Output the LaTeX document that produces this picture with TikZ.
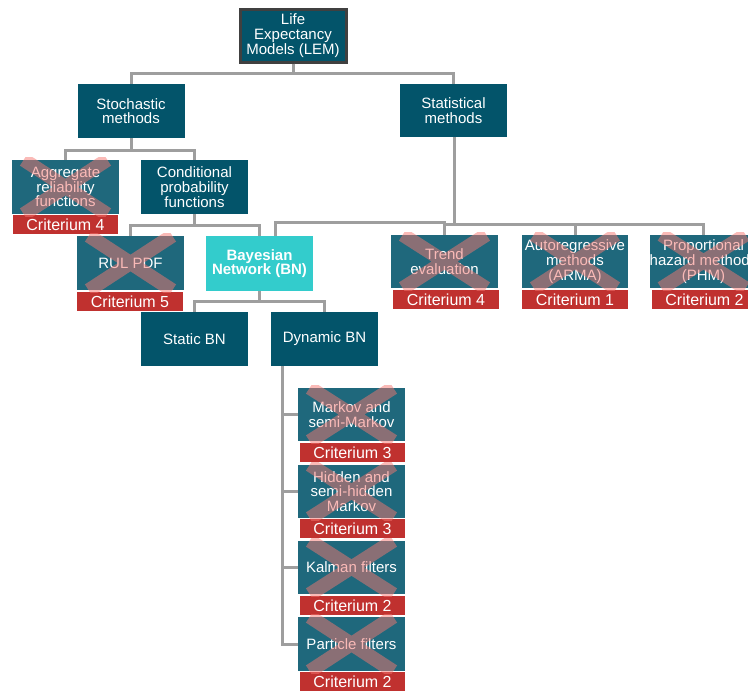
\documentclass[tikz,border=0pt]{standalone}
\usepackage{fontspec}
\setmainfont{Liberation Sans}
\newdimen\pxu \pxu=0.75pt
\definecolor{boxteal}{HTML}{03546A}
\definecolor{dropteal}{HTML}{1F687C}
\definecolor{bncyan}{HTML}{33CCCC}
\definecolor{critred}{HTML}{C0312F}
\definecolor{linegray}{HTML}{9E9E9E}
\definecolor{rimgray}{HTML}{404040}
\definecolor{xsalmon}{HTML}{F57670}
\newcommand\boxfont{\fontsize{11.25pt}{11pt}\selectfont}
\newcommand\critfont{\fontsize{12pt}{12pt}\selectfont}
\tikzset{
  box/.style={rectangle, fill=boxteal, text=white, inner sep=0pt,
    minimum width=107\pxu, minimum height=54\pxu, align=center, font=\boxfont},
  dropped/.style={box, fill=dropteal},
  crit/.style={rectangle, fill=critred, text=white, inner sep=0pt,
    minimum width=105\pxu, minimum height=19\pxu, font=\critfont},
  link/.style={draw=linegray, line width=3\pxu},
  xbar/.style={draw=xsalmon, line width=14\pxu, opacity=0.5, line cap=butt},
}
% translucent cross over a discarded method
\newcommand\strikeout[1]{%
  \begin{scope}
    \clip ([yshift=2\pxu]#1.north west) rectangle ([yshift=-2\pxu]#1.south east);
    \draw[xbar] ([xshift=12\pxu]#1.north west) -- ([xshift=-12\pxu]#1.south east)
                ([xshift=-12\pxu]#1.north east) -- ([xshift=12\pxu]#1.south west);
  \end{scope}}
\begin{document}
\begin{tikzpicture}[x=0.75pt, y=-0.75pt]
\useasboundingbox (0,0) rectangle (748,693);
\clip (0,0) rectangle (748,693);

% root
\node[box, minimum width=106\pxu, minimum height=53\pxu, draw=rimgray, line width=3\pxu] (lem) at (293,35.5) {Life\\Expectancy\\Models (LEM)};

% first level
\node[box] (stoch) at (131,111) {Stochastic\\methods};
\node[box, minimum height=53\pxu] (stat) at (453.5,110.5) {Statistical\\methods};

% stochastic branch
\node[dropped] (agg) at (65.5,187) {Aggregate\\reliability\\functions};
\node[crit] (cagg) at (65.5,224.5) {Criterium 4};
\node[box] (cond) at (194.5,187) {Conditional\\probability\\functions};
\node[dropped] (rul) at (130.5,263) {RUL PDF};
\node[crit, minimum width=106\pxu] (crul) at (130,301.5) {Criterium 5};
\node[box, fill=bncyan, minimum height=55\pxu, font=\boxfont\bfseries] (bn) at (259.5,263.5) {Bayesian\\Network (BN)};
\node[box] (sbn) at (194.5,339) {Static BN};
\node[box] (dbn) at (324.5,339) {Dynamic BN};

% statistical branch
\node[dropped, minimum height=53\pxu] (trend) at (444.5,261.5) {Trend\\evaluation};
\node[crit, minimum width=106\pxu] (ctrend) at (446,299.5) {Criterium 4};
\node[dropped, minimum height=53\pxu, minimum width=106\pxu] (arma) at (575,261.5) {Autoregressive\\methods\\(ARMA)};
\node[crit, minimum width=106\pxu] (carma) at (575,299.5) {Criterium 1};
\node[dropped, minimum height=53\pxu] (phm) at (703.5,261.5) {Proportional\\hazard methods\\(PHM)};
\node[crit] (cphm) at (704.5,299.5) {Criterium 2};

% dynamic BN variants
\node[dropped, minimum height=53\pxu] (markov) at (351.5,414.5) {Markov and\\semi-Markov};
\node[crit] (cmarkov) at (352.5,452.5) {Criterium 3};
\node[dropped, minimum height=53\pxu] (hidden) at (351.5,491.5) {Hidden and\\semi-hidden\\Markov};
\node[crit] (chidden) at (352.5,528.5) {Criterium 3};
\node[dropped, minimum height=53\pxu] (kalman) at (351.5,567.5) {Kalman filters};
\node[crit] (ckalman) at (352.5,605.5) {Criterium 2};
\node[dropped] (particle) at (351.5,644) {Particle filters};
\node[crit] (cparticle) at (352.5,681.5) {Criterium 2};

% crosses
\strikeout{agg}
\strikeout{rul}
\strikeout{trend}
\strikeout{arma}
\strikeout{phm}
\strikeout{markov}
\strikeout{hidden}
\strikeout{kalman}
\strikeout{particle}

% connectors
\draw[link] (lem.south) -- ++(0,10) -| (stoch.north);
\draw[link] (lem.south) -- ++(0,10) -| (stat.north);
\draw[link] (stoch.south) -- ++(0,12) -| (agg.north);
\draw[link] (stoch.south) -- ++(0,12) -| (cond.north);
\draw[link] (cond.south) -- ++(0,11) -| (rul.north);
\draw[link] (cond.south) -- ++(0,11) -| (bn.north);
\draw[link] (bn.south) -- ++(0,10) -| (sbn.north);
\draw[link] (bn.south) -- ++(0,10) -| (dbn.north);
\draw[link] ([xshift=16\pxu]bn.north) -- ++(0,-13) -| (trend.north);
\draw[link] ([xshift=1\pxu]stat.south) -- ++(0,87) -| (trend.north);
\draw[link] ([xshift=1\pxu]stat.south) -- ++(0,87) -| (arma.north);
\draw[link] ([xshift=1\pxu]stat.south) -- ++(0,87) -| (phm.north);
\draw[link] ([xshift=12\pxu]dbn.south west) |- (markov.west);
\draw[link] ([xshift=12\pxu]dbn.south west) |- (hidden.west);
\draw[link] ([xshift=12\pxu]dbn.south west) |- (kalman.west);
\draw[link] ([xshift=12\pxu]dbn.south west) |- (particle.west);
\end{tikzpicture}
\end{document}
